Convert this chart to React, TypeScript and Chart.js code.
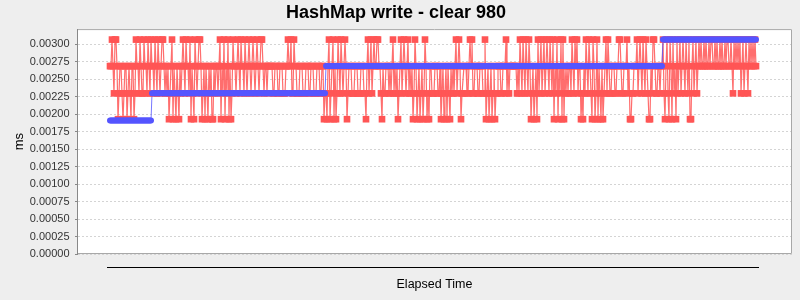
import { useEffect, useRef } from "react";
import { Chart, registerables } from "chart.js";

Chart.register(...registerables);

const TITLE = "HashMap write - clear 980";
const Y_TITLE = "ms";
const X_TITLE = "Elapsed Time";

// value levels (ms) observed in the picture
const RED_LEVELS = [0.00193, 0.0023, 0.00269, 0.00307];
const BLUE_LEVELS = [0.00191, 0.0023, 0.00269, 0.00307];

// one digit per sample (index into the levels), 10 samples per row
const RED_CODES = [
  "2232133201", "2210122012", "1022013221", "3211322132", "1322132132",
  "1233212120", "1230210210", "2123213221", "3021032123", "3201202102",
  "1200212212", "3021302130", "2013221232", "1322132123", "2123212321",
  "2332122122", "2221122211", "2221112232", "2311322111", "2221112221",
  "1222111222", "1122011023", "0123020132", "1321232012", "2211122211",
  "1222110231", "2312322332", "2102112221", "2123121201", "2312321231",
  "2120132012", "0120132010", "2211122211", "2012012021", "0212123123",
  "2011222112", "3231122211", "2221130120", "1201201122", "2112223121",
  "2222222121", "3213213213", "2012012031", "2312312321", "3213021302",
  "1303021212", "2132132312", "2010213213", "2103201302", "1020123132",
  "1122211223", "3211222312", "0011222312", "3213213210", "0213321122",
  "1223102310", "3203120312", "3123213213", "0023123123", "2322323223",
  "2332232322", "3232232332", "2321323232", "3123123213", "2323232",
].join("");

const BLUE_CODES = [
  "0000000000", "0000000000", "0000000000", "0000000000", "0011111111",
  "1111111111", "1111111111", "1111111111", "1111111111", "1111111111",
  "1111111111", "1111111111", "1111111111", "1111111111", "1111111111",
  "1111111111", "1111111111", "1111111111", "1111111111", "1111111111",
  "1111111111", "1111112222", "2222222222", "2222222222", "2222222222",
  "2222222222", "2222222222", "2222222222", "2222222222", "2222222222",
  "2222222222", "2222222222", "2222222222", "2222222222", "2222222222",
  "2222222222", "2222222222", "2222222222", "2222222222", "2222222222",
  "2222222222", "2222222222", "2222222222", "2222222222", "2222222222",
  "2222222222", "2222222222", "2222222222", "2222222222", "2222222222",
  "2222222222", "2222222222", "2222222222", "2222222222", "2222222222",
  "2223333333", "3333333333", "3333333333", "3333333333", "3333333333",
  "3333333333", "3333333333", "3333333333", "3333333333", "3333333",
].join("");

const Y_MIN = 0;
const Y_MAX = 0.00322;
const Y_STEP = 0.00025;
const X_MARGIN_LEFT = 33;
const X_MARGIN_RIGHT = 36;

const FONT = "'Liberation Sans', Arial, sans-serif";

const redData = RED_CODES.split("").map((c, i) => ({ x: i, y: RED_LEVELS[Number(c)] }));
const blueData = BLUE_CODES.split("").map((c, i) => ({ x: i, y: BLUE_LEVELS[Number(c)] }));

const RED = "#FF5555";
const BLUE = "#5555FF";

const backgroundPlugin = {
  id: "jfreeBackground",
  beforeDraw(chart: any) {
    const { ctx, chartArea } = chart;
    ctx.save();
    ctx.fillStyle = "#EEEEEE";
    ctx.fillRect(0, 0, chart.width, chart.height);
    ctx.fillStyle = "#FFFFFF";
    ctx.fillRect(chartArea.left, chartArea.top, chartArea.right - chartArea.left, chartArea.bottom - chartArea.top);
    ctx.restore();
  },
  afterDraw(chart: any) {
    const { ctx, chartArea } = chart;
    const xs = chart.scales.x;
    ctx.save();
    ctx.strokeStyle = "#A8A8A8";
    ctx.lineWidth = 1;
    ctx.beginPath();
    ctx.moveTo(chartArea.left + 0.5, chartArea.top + 0.5);
    ctx.lineTo(chartArea.right - 0.5, chartArea.top + 0.5);
    ctx.lineTo(chartArea.right - 0.5, chartArea.bottom - 0.5);
    ctx.lineTo(chartArea.left + 0.5, chartArea.bottom - 0.5);
    ctx.stroke();
    ctx.strokeStyle = "#888888";
    ctx.beginPath();
    ctx.moveTo(chartArea.left + 0.5, chartArea.top);
    ctx.lineTo(chartArea.left + 0.5, chartArea.bottom);
    ctx.stroke();
    // category-style axis line below the plot
    const x0 = xs.getPixelForValue(0) - 3;
    const x1 = xs.getPixelForValue(redData.length - 1) + 3;
    const y = Math.round(chartArea.bottom + 13) + 0.5;
    ctx.strokeStyle = "#000000";
    ctx.beginPath();
    ctx.moveTo(x0, y);
    ctx.lineTo(x1, y);
    ctx.stroke();
    ctx.restore();
  },
};

export default function App() {
  const canvasRef = useRef<HTMLCanvasElement | null>(null);

  useEffect(() => {
    document.body.style.margin = "0";
    const canvas = canvasRef.current;
    if (!canvas) return;
    const chart = new Chart(canvas, {
      type: "line",
      data: {
        datasets: [
          {
            label: "mean points",
            data: blueData,
            showLine: false,
            pointStyle: "circle",
            pointRadius: 3,
            pointBackgroundColor: BLUE,
            pointBorderWidth: 0,
            order: 0,
          },
          {
            label: "time points",
            data: redData,
            showLine: false,
            pointStyle: "rect",
            pointRadius: 4.7,
            pointBackgroundColor: RED,
            pointBorderWidth: 0,
            order: 1,
          },
          {
            label: "mean",
            data: blueData,
            borderColor: "rgba(85,85,255,0.8)",
            borderWidth: 1,
            pointRadius: 0,
            tension: 0,
            order: 2,
          },
          {
            label: "time",
            data: redData,
            borderColor: "rgba(255,85,85,0.85)",
            borderWidth: 1.2,
            pointRadius: 0,
            tension: 0,
            order: 3,
          },
        ],
      },
      options: {
        animation: false,
        responsive: false,
        events: [],
        layout: { padding: { left: 0, right: 8, top: 0, bottom: 0 } },
        plugins: {
          legend: { display: false },
          tooltip: { enabled: false },
          title: {
            display: true,
            text: TITLE,
            color: "#000000",
            font: { family: FONT, size: 18, weight: "bold" },
            padding: { top: 2, bottom: 5.5 },
          },
        },
        scales: {
          x: {
            type: "linear",
            min: -X_MARGIN_LEFT,
            max: redData.length - 1 + X_MARGIN_RIGHT,
            ticks: { display: false },
            grid: { display: false, drawTicks: false },
            border: { display: false },
            title: {
              display: true,
              text: X_TITLE,
              color: "#000000",
              font: { family: FONT, size: 12.5 },
              padding: { top: 23.5, bottom: 7.5 },
            },
          },
          y: {
            type: "linear",
            min: Y_MIN,
            max: Y_MAX,
            afterFit(scale: any) {
              scale.width = 77;
            },
            ticks: {
              stepSize: Y_STEP,
              includeBounds: false,
              color: "#333333",
              padding: 5.5,
              font: { family: FONT, size: 11 },
              callback: (v: any) => Number(v).toFixed(5),
            },
            grid: {
              color: "#D4D4D4",
              lineWidth: 1,
              drawTicks: true,
              tickLength: 2,
              tickColor: "#888888",
            },
            border: { display: true, color: "#888888", dash: [2, 2] },
            title: {
              display: true,
              text: Y_TITLE,
              color: "#000000",
              font: { family: FONT, size: 13 },
              padding: { top: 12, bottom: 4 },
            },
          },
        },
      },
      plugins: [backgroundPlugin],
    });
    return () => chart.destroy();
  }, []);

  return (
    <div style={{ width: 800, height: 300 }}>
      <canvas ref={canvasRef} width={800} height={300} style={{ display: "block" }} />
    </div>
  );
}
